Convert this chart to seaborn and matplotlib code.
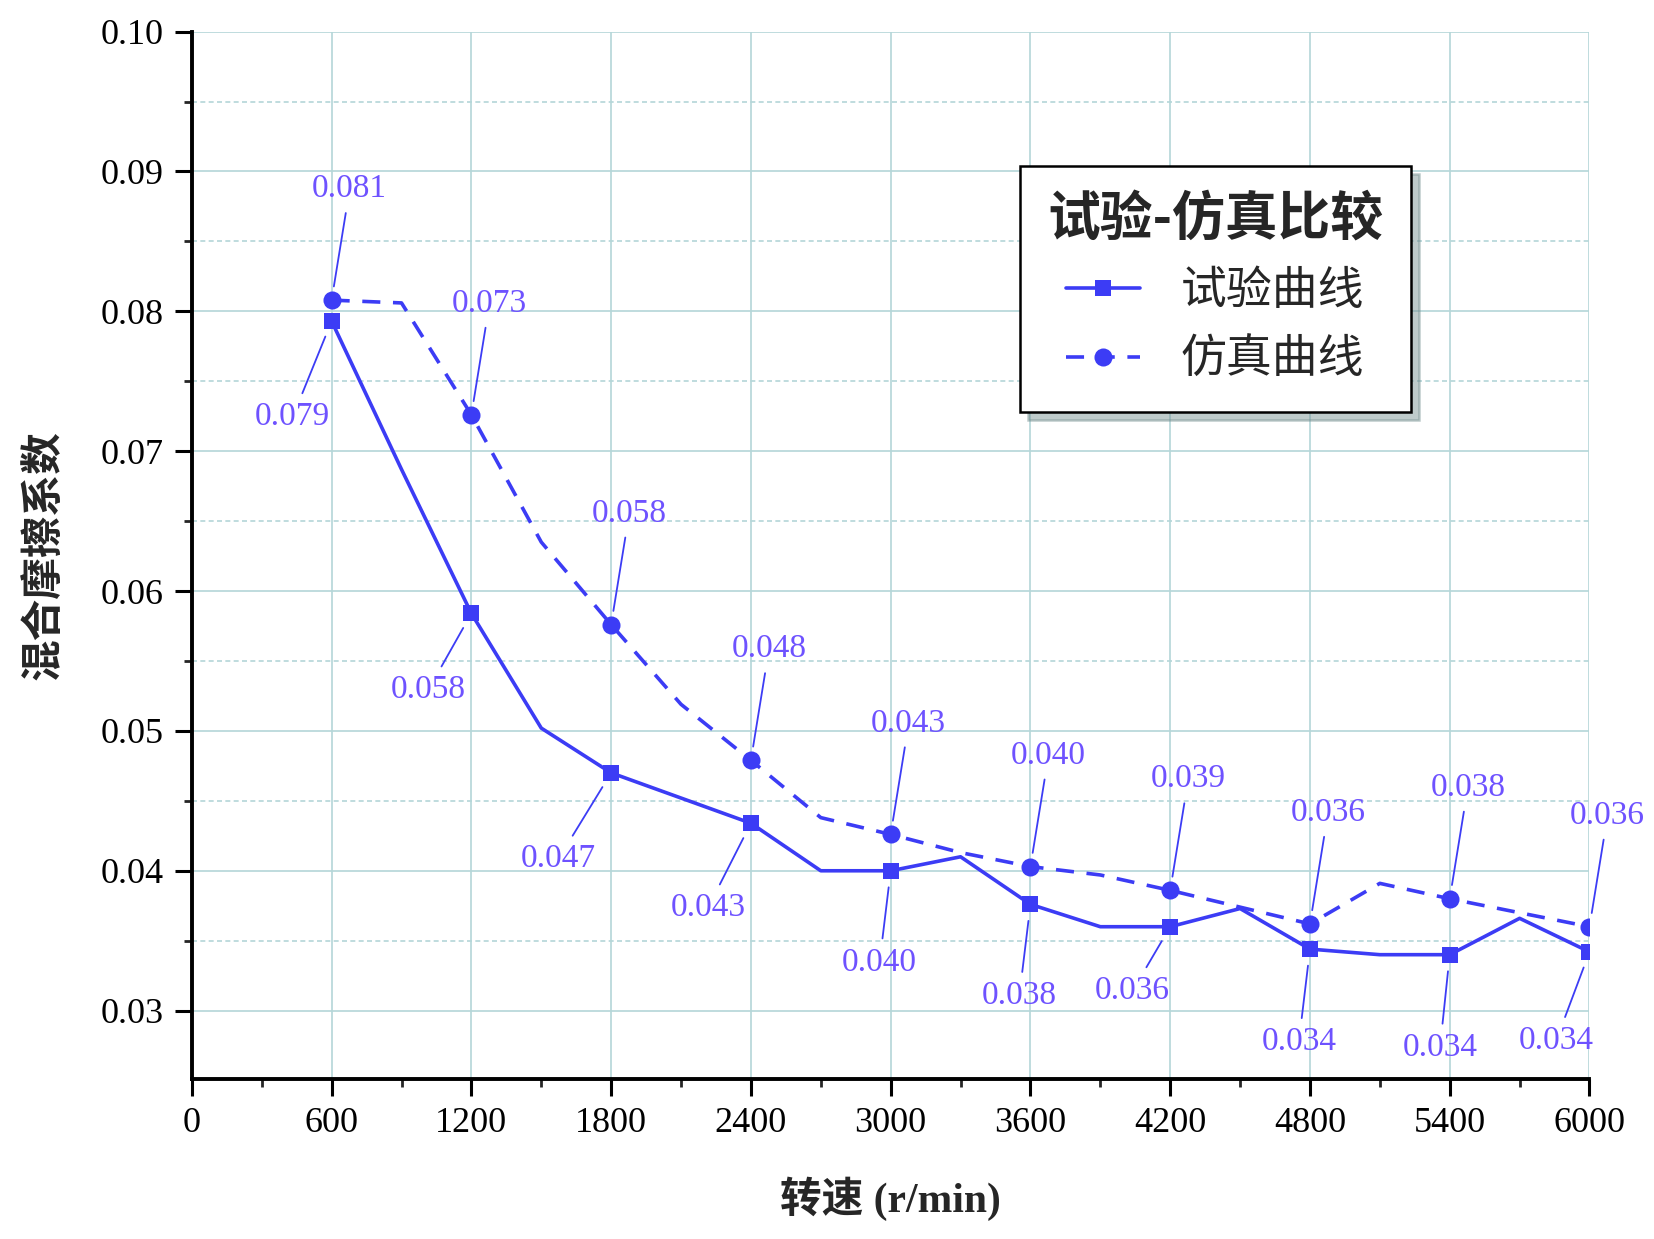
import matplotlib
matplotlib.use("Agg")
import matplotlib.pyplot as plt
import pandas as pd
import seaborn as sns
from matplotlib.ticker import MultipleLocator, FormatStrFormatter

# 转速 (r/min)，每 300 一个点，标记点在 600 的整数倍
speed = [600, 900, 1200, 1500, 1800, 2100, 2400, 2700, 3000, 3300,
         3600, 3900, 4200, 4500, 4800, 5100, 5400, 5700, 6000]
# 试验曲线
test_mu = [0.0793, 0.0687, 0.0584, 0.0502, 0.0470, 0.0452, 0.0434, 0.0400, 0.0400, 0.0410,
           0.0376, 0.0360, 0.0360, 0.0373, 0.0344, 0.0340, 0.0340, 0.0366, 0.0342]
# 仿真曲线
sim_mu = [0.0808, 0.0806, 0.0726, 0.0635, 0.0576, 0.0519, 0.0479, 0.0438, 0.0426, 0.0413,
          0.0403, 0.0397, 0.0386, 0.0374, 0.0362, 0.0391, 0.0380, 0.0370, 0.0360]

df = pd.DataFrame({"speed": speed, "test": test_mu, "sim": sim_mu})
marked = df[df.speed % 600 == 0]

sns.set_style("white")
plt.rcParams['font.family'] = ['Liberation Serif', 'Noto Sans CJK SC', 'DejaVu Sans']

line_c = "#3c3cf5"
text_c = "#6e52ff"
grid_c = "#b4d6d8"

fig = plt.figure(figsize=(16.54, 12.39), dpi=100)
ax = fig.add_axes([0.116, 0.129, 0.845, 0.8455])

sns.lineplot(data=df, x="speed", y="test", ax=ax, color=line_c, lw=2.6,
             marker="s", markersize=12, markevery=2, markeredgewidth=0,
             label="试验曲线")
sns.lineplot(data=df, x="speed", y="sim", ax=ax, color=line_c, lw=2.6,
             linestyle=(0, (5, 3.5)), marker="o", markersize=13, markevery=2,
             markeredgewidth=0, label="仿真曲线")

ax.set_xlim(0, 6000)
ax.set_ylim(0.0251, 0.10)
ax.xaxis.set_major_locator(MultipleLocator(600))
ax.xaxis.set_minor_locator(MultipleLocator(300))
ax.yaxis.set_major_locator(MultipleLocator(0.01))
ax.yaxis.set_minor_locator(MultipleLocator(0.005))
ax.yaxis.set_major_formatter(FormatStrFormatter('%.2f'))

ax.grid(False)
ax.grid(which='major', axis='both', color=grid_c, lw=1.2, ls='-')
ax.grid(which='minor', axis='y', color=grid_c, lw=1.2, ls=(0, (3, 2)))
ax.set_axisbelow(True)

for s in ['top', 'right']:
    ax.spines[s].set_visible(False)
for s in ['left', 'bottom']:
    ax.spines[s].set_linewidth(2.8)
    ax.spines[s].set_color('black')
ax.tick_params(which='major', direction='out', length=12, width=2.2, labelsize=26,
               colors='black', left=True, bottom=True, pad=8)
ax.tick_params(which='minor', direction='out', length=6, width=2, left=True, bottom=True)

ax.set_xlabel("转速 (r/min)", fontsize=30, fontweight='bold', labelpad=26)
ax.set_ylabel("混合摩擦系数", fontsize=30, fontweight='bold', labelpad=26,
              family=['Noto Sans CJK SC'])

# 数据标签
sim_off = [(13, 80)] * len(marked)
test_off = [(-28, -69), (-31, -55), (-38, -62), (-31, -61), (-8, -66),
            (-8, -66), (-27, -46), (-8, -67), (-7, -67), (-24, -64)]

for (x, y), off in zip(zip(marked.speed, marked.sim), sim_off):
    ax.annotate(f"{y:.3f}", xy=(x, y), xytext=off, textcoords='offset points',
                ha='center', va='center', fontsize=24, color=text_c,
                arrowprops=dict(arrowstyle='-', color=line_c, lw=1.3, shrinkA=4, shrinkB=10))
for (x, y), off in zip(zip(marked.speed, marked.test), test_off):
    ax.annotate(f"{y:.3f}", xy=(x, y), xytext=off, textcoords='offset points',
                ha='center', va='center', fontsize=24, color=text_c,
                arrowprops=dict(arrowstyle='-', color=line_c, lw=1.3, shrinkA=4, shrinkB=12))

leg = ax.legend(loc='upper left', bbox_to_anchor=(0.576, 0.894),
                title="试验-仿真比较", fancybox=False, framealpha=1,
                edgecolor='black',
                shadow={'ox': 6, 'oy': -6, 'alpha': 0.45, 'color': '#6f8c8c'},
                prop=dict(family='Noto Sans CJK SC', size=33),
                title_fontproperties=dict(family='Noto Sans CJK SC', weight='bold', size=38),
                handlelength=1.6, handletextpad=0.9, borderpad=0.6, labelspacing=0.45)
leg.get_frame().set_linewidth(1.8)

fig.savefig("out.png", dpi=100)
